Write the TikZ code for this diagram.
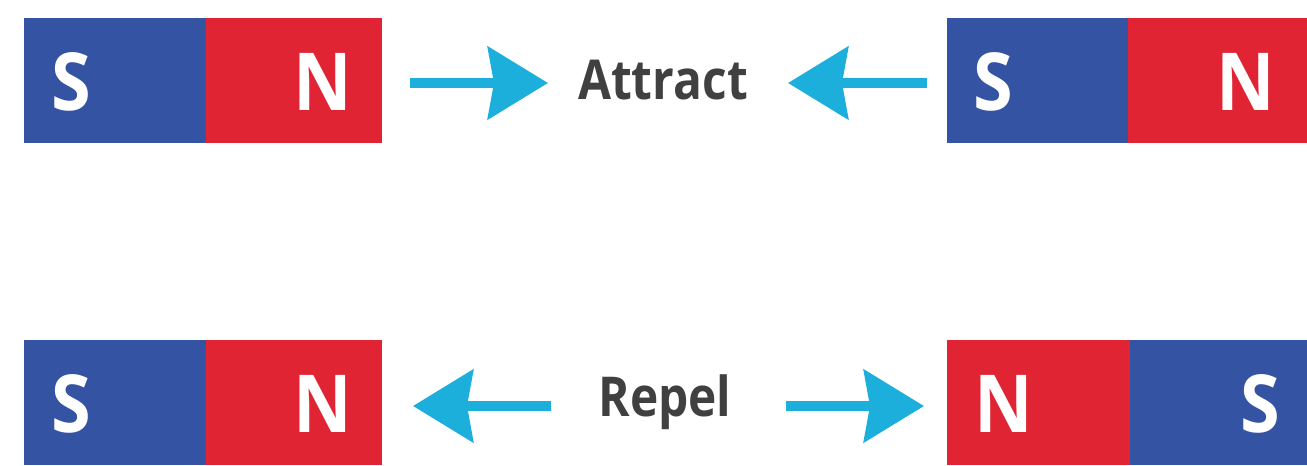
\documentclass[tikz,border=0pt]{standalone}
\usepackage{fontspec}
\setmainfont{Open Sans}
\usetikzlibrary{arrows.meta}
\definecolor{magblue}{HTML}{3453A3}
\definecolor{magred}{HTML}{E02434}
\definecolor{arrowcyan}{HTML}{1DAFDC}
\definecolor{labelgray}{HTML}{404040}
\tikzset{
  half/.style={draw=none,inner sep=0pt,minimum height=125pt,anchor=north west},
  southhalf/.style={half,fill=magblue},
  northhalf/.style={half,fill=magred},
  pole/.style={text=white,font=\fontsize{80}{80}\selectfont\bfseries,inner sep=0pt,xscale=0.9},
  forcelabel/.style={text=labelgray,font=\fontsize{55}{55}\selectfont\bfseries,inner sep=0pt,xscale=0.87},
  force/.style={draw=arrowcyan,line width=10pt,-{Stealth[length=60pt,width=72pt,inset=6pt,fill=arrowcyan]}}
}
\begin{document}
\begin{tikzpicture}[x=1pt,y=-1pt]
\useasboundingbox (0,0) rectangle (1307,466);
\fill[white] (0,0) rectangle (1307,466);
% top left magnet
\node[southhalf,minimum width=182pt] (tlS) at (24,18) {};
\node[northhalf,minimum width=176pt] (tlN) at (206,18) {};
\node[pole] (tlSl) at (71,82) {S};
\node[pole] (tlNl) at (323,82) {N};
% top right magnet
\node[southhalf,minimum width=181pt] (trS) at (947,18) {};
\node[northhalf,minimum width=179pt] (trN) at (1128,18) {};
\node[pole] (trSl) at (993,82) {S};
\node[pole] (trNl) at (1246,82) {N};
% bottom left magnet
\node[southhalf,minimum width=182pt] (blS) at (24,340) {};
\node[northhalf,minimum width=176pt] (blN) at (206,340) {};
\node[pole] (blSl) at (71,404) {S};
\node[pole] (blNl) at (323,404) {N};
% bottom right magnet
\node[northhalf,minimum width=183pt] (brN) at (947,340) {};
\node[southhalf,minimum width=177pt] (brS) at (1130,340) {};
\node[pole] (brNl) at (1004,404) {N};
\node[pole] (brSl) at (1260,404) {S};
% labels
\node[forcelabel] (attract) at (663,80) {Attract};
\node[forcelabel] (repel) at (665,402) {Repel};
% arrow endpoints
\coordinate (a1s) at (410,83);
\coordinate (a1e) at (548,83);
\coordinate (a2s) at (927,83);
\coordinate (a2e) at (788,83);
\coordinate (r1s) at (551,406);
\coordinate (r1e) at (413,406);
\coordinate (r2s) at (786,406);
\coordinate (r2e) at (924,406);
\draw[force] (a1s) -- (a1e);
\draw[force] (a2s) -- (a2e);
\draw[force] (r1s) -- (r1e);
\draw[force] (r2s) -- (r2e);
\end{tikzpicture}
\end{document}
